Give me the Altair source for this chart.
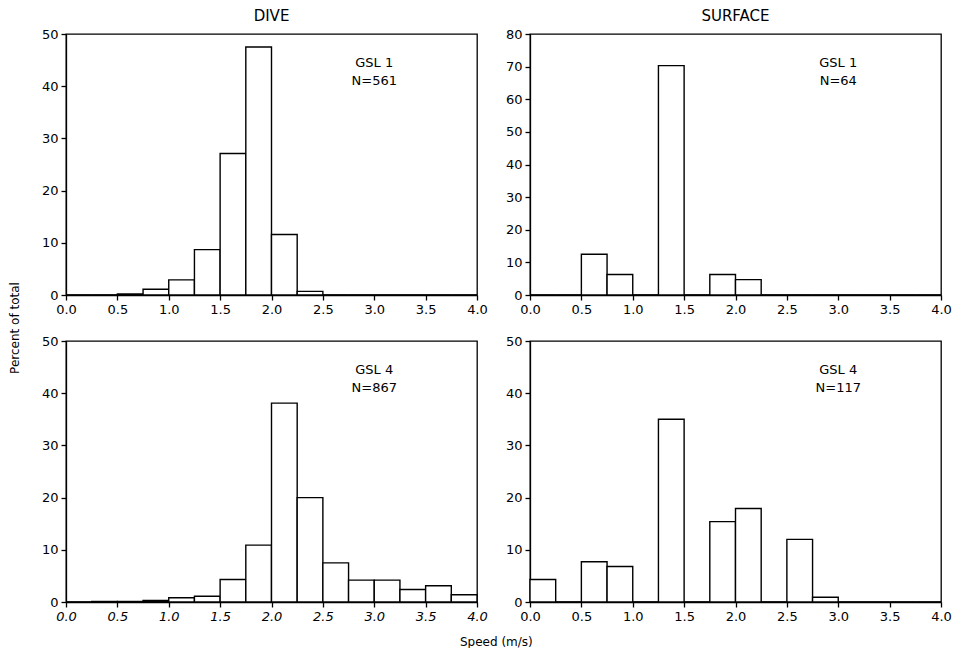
import altair as alt
import pandas as pd

# bin starts (m/s), bin width 0.25
bin_start = [0.0, 0.25, 0.5, 0.75, 1.0, 1.25, 1.5, 1.75, 2.0, 2.25, 2.5, 2.75, 3.0, 3.25, 3.5, 3.75]
bin_width = 0.25

# percent of total
dive_gsl1 = [0, 0, 0.2, 1.1, 2.9, 8.7, 27.1, 47.5, 11.6, 0.7, 0, 0, 0, 0, 0, 0]
surf_gsl1 = [0, 0, 12.5, 6.3, 0, 70.3, 0, 6.3, 4.7, 0, 0, 0, 0, 0, 0, 0]
dive_gsl4 = [0, 0.1, 0.1, 0.3, 0.8, 1.1, 4.3, 10.9, 38.1, 20.0, 7.5, 4.2, 4.2, 2.4, 3.1, 1.4]
surf_gsl4 = [4.3, 0, 7.7, 6.8, 0, 35.0, 0, 15.4, 17.9, 0, 12.0, 0.9, 0, 0, 0, 0]

x_ticks = [0.0, 0.5, 1.0, 1.5, 2.0, 2.5, 3.0, 3.5, 4.0]

FONT = "DejaVu Sans"
W, H = 411, 261


def panel(values, ymax, label, title=None, italic=False):
    df = pd.DataFrame({
        "start": bin_start,
        "end": [b + bin_width for b in bin_start],
        "pct": values,
    })
    xaxis = alt.Axis(values=x_ticks, format=".1f", title=None, grid=False,
                     tickSize=5, labelPadding=3, labelFlush=False,
                     labelFont=FONT, labelFontSize=13, labelColor="black",
                     labelFontStyle="italic" if italic else "normal")
    yaxis = alt.Axis(values=list(range(0, ymax + 1, 10)), title=None, grid=False,
                     tickSize=5, labelPadding=3, labelOverlap=False,
                     labelFont=FONT, labelFontSize=13, labelColor="black")
    xs = alt.Scale(domain=[0, 4], nice=False, zero=False)
    ys = alt.Scale(domain=[0, ymax], nice=False)
    bars = alt.Chart(df).mark_bar(fill="white", stroke="black", strokeWidth=1.4).encode(
        x=alt.X("start:Q", scale=xs, axis=xaxis),
        x2="end:Q",
        y=alt.Y("pct:Q", scale=ys, axis=yaxis),
        y2=alt.datum(0),
    )
    ann = alt.Chart(pd.DataFrame({"x": [3.0], "y": [ymax * 0.89], "t": [label]})).mark_text(
        lineBreak="\n", align="center", baseline="middle", font=FONT, fontSize=13,
        lineHeight=18, color="black"
    ).encode(x=alt.X("x:Q", scale=xs, axis=xaxis),
             y=alt.Y("y:Q", scale=ys, axis=yaxis),
             text="t:N")
    props = dict(width=W, height=H, view=alt.ViewConfig(stroke="black", strokeWidth=1.3))
    if title:
        props["title"] = alt.TitleParams(title, font=FONT, fontSize=15, fontWeight="normal",
                                         offset=4, color="black")
    return alt.layer(bars, ann).properties(**props)


p1 = panel(dive_gsl1, 50, "GSL 1\nN=561", title="DIVE")
p2 = panel(surf_gsl1, 80, "GSL 1\nN=64", title="SURFACE")
p3 = panel(dive_gsl4, 50, "GSL 4\nN=867", italic=True)
p4 = panel(surf_gsl4, 50, "GSL 4\nN=117")

row1 = alt.hconcat(p1, p2, spacing=16)
row2 = alt.hconcat(p3, p4, spacing=16,
                   title=alt.TitleParams("Speed (m/s)", orient="bottom", anchor="middle",
                                         font=FONT, fontSize=12, fontWeight="normal",
                                         offset=13, color="black"))

chart = alt.vconcat(row1, row2, spacing=17,
                    title=alt.TitleParams("Percent of total", orient="left", anchor="middle",
                                          font=FONT, fontSize=12, fontWeight="normal",
                                          offset=19, color="black")
                    ).properties(padding=0, background="white"
                    ).configure_view(stroke="black", strokeWidth=1.3
                    ).configure_axis(domainColor="black", tickColor="black",
                                     domainWidth=1.3, tickWidth=1.3)

chart.save("out.html", embed_options={"renderer": "svg", "actions": False})
